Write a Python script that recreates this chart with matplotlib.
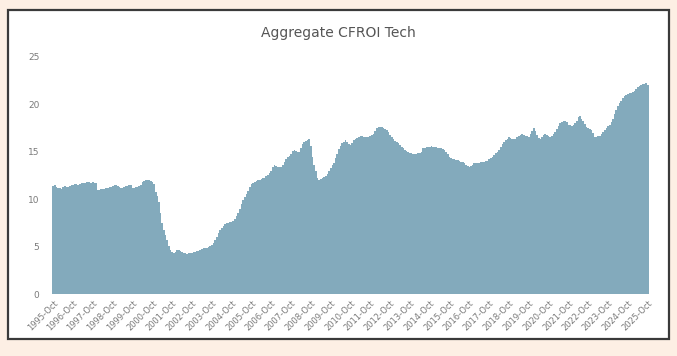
import matplotlib
matplotlib.use("Agg")
import matplotlib.pyplot as plt
from matplotlib.patches import Rectangle
import pandas as pd

plt.rcParams["font.family"] = ["DejaVu Sans"]

# Monthly aggregate CFROI (%), Oct 1995 .. Oct 2025, one row per Oct..Sep year
cfroi = [
    11.4, 11.5, 11.3, 11.2, 11.2, 11.1, 11.3, 11.4, 11.3, 11.3, 11.4, 11.5,
    11.5, 11.6, 11.6, 11.5, 11.6, 11.7, 11.7, 11.7, 11.8, 11.8, 11.8, 11.7,
    11.8, 11.7, 11.7, 11.0, 11.0, 11.1, 11.1, 11.1, 11.2, 11.2, 11.3, 11.3,
    11.4, 11.5, 11.5, 11.4, 11.3, 11.2, 11.2, 11.3, 11.4, 11.4, 11.5, 11.5,
    11.2, 11.2, 11.3, 11.3, 11.4, 11.5, 11.8, 11.9, 12.0, 12.0, 12.0, 11.9,
    11.8, 11.6, 10.8, 10.3, 9.7, 8.5, 7.5, 6.7, 6.2, 5.7, 5.1, 4.6,
    4.4, 4.3, 4.4, 4.6, 4.6, 4.5, 4.4, 4.3, 4.3, 4.2, 4.3, 4.3,
    4.3, 4.4, 4.4, 4.5, 4.5, 4.6, 4.7, 4.8, 4.8, 4.9, 5.0, 5.1,
    5.2, 5.4, 5.7, 6.0, 6.4, 6.7, 7.0, 7.2, 7.4, 7.5, 7.5, 7.6,
    7.6, 7.7, 7.9, 8.2, 8.5, 9.0, 9.5, 9.9, 10.2, 10.5, 10.9, 11.3,
    11.6, 11.7, 11.8, 11.9, 12.0, 12.0, 12.1, 12.2, 12.2, 12.4, 12.6, 12.8,
    13.0, 13.4, 13.6, 13.5, 13.4, 13.4, 13.4, 13.6, 13.9, 14.2, 14.5, 14.6,
    14.8, 15.1, 15.2, 15.1, 15.0, 15.0, 15.4, 15.8, 16.0, 16.1, 16.2, 16.3,
    15.6, 14.5, 13.6, 13.0, 12.2, 12.0, 12.1, 12.2, 12.3, 12.5, 12.7, 13.0,
    13.3, 13.6, 13.8, 14.3, 14.8, 15.3, 15.6, 15.9, 16.0, 16.2, 16.0, 15.8,
    15.7, 15.9, 16.2, 16.4, 16.5, 16.6, 16.7, 16.7, 16.6, 16.6, 16.6, 16.6,
    16.7, 16.8, 16.9, 17.2, 17.5, 17.6, 17.6, 17.6, 17.5, 17.4, 17.3, 17.1,
    16.8, 16.6, 16.3, 16.1, 16.0, 15.9, 15.7, 15.5, 15.4, 15.2, 15.1, 15.0,
    14.9, 14.9, 14.8, 14.8, 14.8, 14.9, 14.9, 15.0, 15.4, 15.4, 15.5, 15.5,
    15.5, 15.6, 15.5, 15.5, 15.5, 15.4, 15.4, 15.4, 15.3, 15.2, 15.0, 14.8,
    14.5, 14.3, 14.2, 14.2, 14.1, 14.1, 14.0, 13.9, 13.9, 13.8, 13.6, 13.5,
    13.4, 13.5, 13.6, 13.8, 13.8, 13.8, 13.8, 13.9, 13.9, 13.9, 14.0, 14.0,
    14.2, 14.3, 14.5, 14.7, 14.9, 15.0, 15.2, 15.5, 15.8, 16.0, 16.2, 16.4,
    16.6, 16.5, 16.4, 16.4, 16.4, 16.6, 16.7, 16.8, 16.9, 16.8, 16.7, 16.7,
    16.6, 16.9, 17.2, 17.5, 17.2, 16.8, 16.5, 16.4, 16.6, 16.8, 16.9, 16.8,
    16.7, 16.6, 16.7, 16.9, 17.1, 17.4, 17.7, 18.0, 18.1, 18.2, 18.3, 18.1,
    17.8, 17.8, 17.7, 17.8, 18.0, 18.3, 18.7, 18.8, 18.5, 18.2, 17.9, 17.6,
    17.5, 17.4, 17.3, 17.0, 16.6, 16.6, 16.7, 16.7, 16.9, 17.1, 17.3, 17.5,
    17.7, 17.8, 18.1, 18.5, 19.0, 19.4, 19.8, 20.1, 20.4, 20.7, 20.9, 21.0,
    21.1, 21.2, 21.2, 21.3, 21.4, 21.6, 21.8, 21.9, 22.0, 22.1, 22.2, 22.3,
    22.0,
]
months = pd.date_range("1995-10-01", periods=len(cfroi), freq="MS")
tick_labels = [d.strftime("%Y-%b") for d in months if d.month == 10]
y_ticks = [0, 5, 10, 15, 20, 25]

fig = plt.figure(figsize=(6.77, 3.56), dpi=100)
fig.patch.set_facecolor("#fdefe4")

# white card with dark frame, kept behind the axes
fig.patches.append(Rectangle((8 / 677, 1 - 339 / 356), 661 / 677, 329 / 356,
                             transform=fig.transFigure, facecolor="white",
                             edgecolor="#3a3a3a", linewidth=1.6, zorder=-5))

ax = fig.add_axes([52 / 677, 1 - 294 / 356, 597 / 677, 237 / 356])
ax.set_zorder(2)
ax.set_facecolor("none")
x = range(len(cfroi))
ax.bar(x, cfroi, width=1.0, color="#83aabc", edgecolor="none")

ax.set_ylim(0, 25)
ax.set_xlim(-0.8, len(cfroi) - 0.2)
ax.set_yticks(y_ticks)
ax.set_yticklabels([str(v) for v in y_ticks])
tick_pos = [i for i, d in enumerate(months) if d.month == 10]
ax.set_xticks(tick_pos)
ax.set_xticklabels(tick_labels, rotation=45, ha="right", rotation_mode="anchor")
ax.tick_params(axis="both", length=0, colors="#7a7a7a", labelsize=6)
ax.tick_params(axis="y", pad=9, labelsize=6.5)
for s in ax.spines.values():
    s.set_visible(False)

fig.text(0.5, 1 - 33 / 356, "Aggregate CFROI Tech", ha="center", va="center",
         fontsize=10, color="#555555")

fig.savefig("out.png", dpi=100, facecolor=fig.get_facecolor())
